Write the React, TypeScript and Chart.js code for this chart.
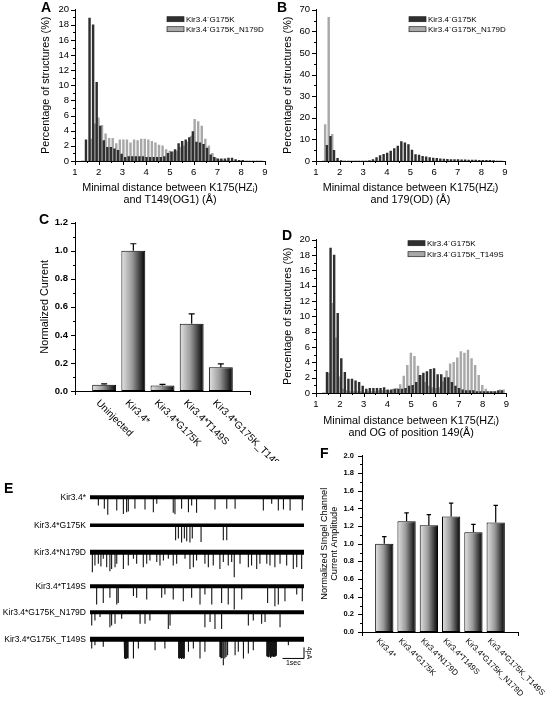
import React, { useEffect, useRef } from 'react';
import { Chart, registerables } from 'chart.js';

Chart.register(...registerables);

const FONT = "'Liberation Sans', Arial, Helvetica, sans-serif";
Chart.defaults.font.family = FONT;
Chart.defaults.color = '#000';

// ---------------- data ----------------
// histogram bin centres (Å)
const BINS = [1.35, 1.5, 1.65, 1.8, 1.95, 2.1, 2.25, 2.4, 2.55, 2.7, 2.85, 3.0, 3.15, 3.3, 3.45, 3.6, 3.75, 3.9, 4.05, 4.2, 4.35, 4.5, 4.65, 4.8, 4.95, 5.1, 5.25, 5.4, 5.55, 5.7, 5.85, 6.0, 6.15, 6.3, 6.45, 6.6, 6.75, 6.9, 7.05, 7.2, 7.35, 7.5, 7.65, 7.8, 7.95, 8.1, 8.25, 8.4, 8.55, 8.7, 8.85];

const A_G175K = [0, 2.8, 18.9, 18.0, 10.4, 4.6, 2.7, 1.8, 1.8, 1.6,
  1.4, 0.9, 0.5, 0.6, 0.6, 0.6, 0.6, 0.6, 0.5, 0.5,
  0.5, 0.5, 0.5, 0.6, 1.0, 1.2, 1.5, 2.3, 2.6, 2.8,
  3.1, 3.9, 2.5, 2.4, 2.2, 1.7, 0.8, 0.5, 0.3, 0.3,
  0.3, 0.4, 0.4, 0.2, 0.1, 0.1, 0, 0, 0, 0,
  0];
const A_G175K_N179D = [0, 0, 2.9, 4.9, 5.7, 4.7, 3.6, 3.0, 3.0, 2.3,
  2.8, 2.8, 2.8, 2.4, 2.8, 2.7, 2.9, 2.9, 2.8, 2.6,
  2.4, 2.1, 2.0, 1.5, 1.3, 1.2, 1.3, 1.8, 2.0, 2.5,
  3.3, 5.5, 5.2, 4.6, 2.9, 2.0, 1.0, 0.4, 0.2, 0.1,
  0.1, 0, 0, 0, 0, 0, 0, 0, 0, 0,
  0];

const B_G175K = [0, 7.2, 11.4, 4.9, 1.2, 0.2, 0, 0, 0, 0,
  0, 0, 0, 0.2, 0.7, 1.6, 2.5, 3.1, 3.7, 4.6,
  5.7, 6.9, 9.0, 8.4, 7.6, 5.1, 3.0, 2.7, 2.2, 1.9,
  1.6, 1.3, 1.2, 1.0, 0.9, 0.8, 0.7, 0.7, 0.6, 0.5,
  0.5, 0.4, 0.4, 0.4, 0.3, 0.3, 0.3, 0.3, 0.2, 0,
  0];
const B_G175K_N179D = [16.9, 66.5, 12.3, 0, 0, 0, 0, 0, 0, 0,
  0, 0, 0, 0, 0, 0, 0, 0, 0, 0,
  0, 0, 0, 0, 0, 0, 0, 0, 0, 0,
  0, 0, 0, 0, 0, 0, 0, 0, 0, 0,
  0, 0, 0, 0, 0, 0, 0, 0, 0, 0,
  0];

const D_G175K = [0, 2.7, 18.9, 18.0, 10.4, 4.5, 2.7, 1.8, 1.8, 1.6,
  1.4, 0.9, 0.5, 0.6, 0.6, 0.6, 0.6, 0.7, 0.4, 0.4,
  0.5, 0.5, 0.5, 0.6, 0.9, 1.0, 1.4, 2.3, 2.6, 2.8,
  3.1, 3.2, 2.4, 2.4, 2.0, 2.0, 1.4, 0.9, 0.6, 0.4,
  0.3, 0.3, 0.3, 0.2, 0.2, 0.2, 0.2, 0.2, 0.2, 0.3,
  0.3];
const D_G175K_T149S = [0, 2.6, 11.7, 7.2, 2.1, 0.5, 0.3, 0.2, 0.2, 0.2,
  0.2, 0.1, 0.2, 0.2, 0.2, 0.3, 0.3, 0.3, 0.3, 0.5,
  0.6, 1.1, 2.2, 3.6, 5.2, 4.8, 3.5, 2.3, 1.4, 0.9,
  0.7, 0.6, 0.7, 1.5, 2.9, 3.8, 4.0, 4.6, 5.4, 5.2,
  5.6, 4.5, 3.6, 2.3, 1.0, 0.5, 0.2, 0.2, 0.2, 0.4,
  0.4];

const C_LABELS = ['Uninjected', 'Kir3.4*', 'Kir3.4*G175K', 'Kir3.4*T149S', 'Kir3.4*G175K_T149S'];
const C_VALUES = [0.045, 1.0, 0.04, 0.48, 0.17];
const C_ERRORS = [0.006, 0.05, 0.007, 0.07, 0.024];

const F_LABELS = ['Kir3.4*', 'Kir3.4*G175K', 'Kir3.4*N179D', 'Kir3.4*T149S', 'Kir3.4*G175K_N179D', 'Kir3.4*G175K_T149S'];
const F_VALUES = [1.0, 1.255, 1.21, 1.31, 1.13, 1.24];
const F_ERRORS = [0.08, 0.095, 0.12, 0.15, 0.09, 0.195];

// single-channel traces: [time (s), downward amplitude (pA)]
const E_LABELS = ['Kir3.4*', 'Kir3.4*G175K', 'Kir3.4*N179D', 'Kir3.4*T149S', 'Kir3.4*G175K_N179D', 'Kir3.4*G175K_T149S'];
const E_KIR34 = [[0.39, 3.0], [0.67, 4.2], [0.83, 6.4], [1.25, 4.8], [1.56, 6.1], [1.71, 5.5], [1.79, 5.2], [2.10, 4.2], [2.57, 4.5], [2.96, 5.5], [3.12, 2.4], [3.89, 5.7], [3.97, 6.2], [4.28, 4.2], [4.60, 5.5], [4.75, 3.0], [4.98, 5.7], [5.84, 4.5], [6.39, 4.2], [6.78, 4.2], [8.10, 4.8], [8.49, 2.4], [8.80, 4.8], [9.04, 4.5], [9.35, 4.8], [9.92, 4.8]];
const E_G175K = [[4.00, 5.5], [4.13, 4.8], [4.28, 6.3], [4.41, 4.8], [4.52, 5.8], [4.67, 6.3], [4.78, 4.8], [5.19, 6.1], [6.23, 5.5], [6.39, 5.5]];
const E_N179D = [[0.11, 7.3], [0.23, 4.8], [0.39, 4.2], [0.51, 5.2], [0.62, 2.4], [0.78, 5.5], [0.93, 6.9], [1.01, 6.1], [1.17, 5.5], [1.25, 4.2], [1.56, 6.1], [1.79, 4.8], [2.03, 2.4], [2.18, 4.2], [2.49, 5.5], [2.65, 4.2], [2.80, 3.0], [3.12, 3.6], [3.27, 4.8], [3.43, 3.0], [3.66, 2.4], [3.89, 4.8], [4.05, 4.2], [4.44, 2.4], [4.67, 6.1], [4.83, 5.5], [4.98, 3.0], [5.37, 4.2], [5.53, 5.5], [5.76, 4.8], [6.07, 6.1], [6.23, 3.6], [6.46, 4.8], [6.62, 3.6], [6.74, 9.1], [7.01, 4.2], [7.40, 5.5], [7.55, 4.8], [7.79, 6.1], [7.94, 4.2], [8.26, 4.2], [8.41, 4.8], [8.64, 5.5], [8.88, 4.2], [9.19, 4.8], [9.50, 6.1], [9.66, 5.5], [9.89, 6.1]];
const E_T149S = [[0.31, 6.7], [0.62, 6.1], [0.93, 4.2], [1.25, 6.7], [1.32, 6.1], [2.03, 3.6], [2.18, 4.2], [2.65, 4.8], [3.35, 4.2], [3.50, 3.0], [3.89, 4.8], [4.36, 5.5], [4.75, 4.2], [5.14, 6.7], [5.37, 3.0], [5.69, 6.7], [6.15, 6.1], [6.46, 6.7], [6.74, 8.5], [7.09, 4.8], [8.30, 6.1], [8.64, 7.3], [8.80, 6.7], [9.11, 5.5], [9.66, 3.0], [9.92, 5.5]];
const E_G175K_N179D = [[0.08, 4.8], [0.23, 3.0], [0.47, 1.8], [0.93, 5.5], [1.01, 4.8], [1.17, 4.2], [1.48, 2.4], [2.34, 4.2], [2.57, 4.2], [2.80, 3.0], [3.66, 6.1], [3.74, 4.8], [5.37, 5.5], [5.61, 3.6], [5.84, 6.1], [6.15, 6.1], [7.40, 4.8], [7.63, 3.0], [8.02, 4.2], [8.18, 3.6], [8.88, 5.5]];
const E_G175K_T149S = [[0.08, 3.4], [0.23, 2.2], [0.62, 2.8],
  [1.60, 6.8], [1.63, 7.0], [1.66, 7.2], [1.69, 6.9], [1.72, 7.1], [1.75, 6.8], [1.78, 7.0],
  [2.03, 7.0], [2.26, 3.4], [3.04, 4.0], [3.50, 3.4],
  [4.14, 6.9], [4.17, 7.1], [4.20, 7.0], [4.23, 6.8], [4.26, 7.2], [4.29, 7.0], [4.32, 6.9], [4.35, 7.1], [4.38, 6.8], [4.41, 7.0],
  [4.60, 4.6], [4.83, 3.4], [5.14, 7.0], [5.37, 4.6],
  [6.07, 6.5], [6.12, 7.0], [6.17, 6.8], [6.23, 9.5], [6.30, 7.0], [6.36, 6.5], [6.43, 5.8],
  [6.78, 5.8], [6.93, 4.6], [7.17, 7.0], [7.40, 5.2], [7.63, 4.0],
  [8.26, 6.2], [8.29, 6.4], [8.32, 6.0], [8.35, 6.6], [8.38, 6.2], [8.41, 6.4], [8.44, 6.8], [8.47, 6.2], [8.50, 6.4], [8.53, 6.3], [8.56, 6.5], [8.59, 6.1], [8.62, 6.4], [8.65, 6.2], [8.68, 6.3], [8.71, 6.0],
  [9.27, 2.2]];
const E_TRACES = [E_KIR34, E_G175K, E_N179D, E_T149S, E_G175K_N179D, E_G175K_T149S];

// ---------------- layout (styling only) ----------------
const TRACE_BASE_Y = [497, 525, 552, 586, 612, 639];
const TRACE_BAND = [4, 3.5, 5, 4, 4, 5];

// ---------------- plugins ----------------
const axisMarks = {
  id: 'axisMarks',
  afterDraw(chart: any, _a: any, opts: any) {
    const ctx = chart.ctx;
    ctx.save();
    ctx.strokeStyle = '#000';
    ctx.lineWidth = 1;
    for (const key of ['x', 'y']) {
      const o = opts[key];
      if (!o) continue;
      const s = chart.scales[key];
      const n = Math.round((s.max - s.min) / o.minor);
      for (let i = 0; i <= n; i++) {
        const v = s.min + i * o.minor;
        const r = (v - s.min) / o.major;
        const major = Math.abs(r - Math.round(r)) < 1e-6;
        const len = major ? 4 : 2;
        ctx.beginPath();
        if (key === 'x') {
          const px = Math.round(s.getPixelForValue(v)) + 0.5;
          ctx.moveTo(px, s.top);
          ctx.lineTo(px, s.top + len);
        } else {
          const py = Math.round(s.getPixelForValue(v)) + 0.5;
          ctx.moveTo(s.right, py);
          ctx.lineTo(s.right - len, py);
        }
        ctx.stroke();
      }
    }
    ctx.restore();
  },
};

const boxLegend = {
  id: 'boxLegend',
  afterDraw(chart: any, _a: any, opts: any) {
    const { ctx, chartArea } = chart;
    ctx.save();
    ctx.font = `${opts.size}px ${FONT}`;
    ctx.textBaseline = 'middle';
    ctx.textAlign = 'left';
    chart.data.datasets.forEach((ds: any, i: number) => {
      const x = chartArea.left + opts.x;
      const y = chartArea.top + opts.y + i * opts.dy;
      ctx.fillStyle = ds.backgroundColor;
      ctx.fillRect(x, y - opts.h / 2, opts.w, opts.h);
      ctx.strokeStyle = '#222';
      ctx.lineWidth = 0.7;
      ctx.strokeRect(x, y - opts.h / 2, opts.w, opts.h);
      ctx.fillStyle = '#000';
      ctx.fillText(ds.label, x + opts.w + 2, y + 0.5);
    });
    ctx.restore();
  },
};

const errBars = {
  id: 'errBars',
  afterDatasetsDraw(chart: any, _a: any, opts: any) {
    const { ctx } = chart;
    const ys = chart.scales.y;
    const meta = chart.getDatasetMeta(0);
    const data = chart.data.datasets[0].data;
    ctx.save();
    ctx.strokeStyle = '#000';
    ctx.lineWidth = 1.2;
    meta.data.forEach((bar: any, i: number) => {
      const top = ys.getPixelForValue(data[i].y + opts.errors[i]);
      ctx.beginPath();
      ctx.moveTo(bar.x, bar.y);
      ctx.lineTo(bar.x, top);
      ctx.moveTo(bar.x - opts.cap, top);
      ctx.lineTo(bar.x + opts.cap, top);
      ctx.stroke();
    });
    ctx.restore();
  },
};

const slantLabels = {
  id: 'slantLabels',
  afterDraw(chart: any, _a: any, opts: any) {
    const { ctx } = chart;
    const xs = chart.scales.x;
    const ys = chart.scales.y;
    ctx.save();
    ctx.font = `${opts.size}px ${FONT}`;
    ctx.fillStyle = '#000';
    ctx.textAlign = 'left';
    ctx.textBaseline = 'top';
    opts.labels.forEach((lab: string, i: number) => {
      const px = xs.getPixelForValue(i + 1);
      ctx.save();
      ctx.translate(px + opts.dx, ys.bottom + opts.dy);
      ctx.rotate(Math.PI / 4);
      ctx.fillText(lab, 0, 0);
      ctx.restore();
    });
    ctx.restore();
  },
};

const scaleBar = {
  id: 'scaleBar',
  afterDraw(chart: any, _a: any, opts: any) {
    const { ctx } = chart;
    const xs = chart.scales.x;
    const ys = chart.scales.y;
    const x0 = xs.getPixelForValue(opts.t1 - opts.sec);
    const x1 = xs.getPixelForValue(opts.t1);
    const yb = ys.getPixelForValue(opts.yBottom);
    const yt = ys.getPixelForValue(opts.yBottom + opts.pA);
    ctx.save();
    ctx.strokeStyle = '#000';
    ctx.lineWidth = 1;
    ctx.beginPath();
    ctx.moveTo(x0, yb);
    ctx.lineTo(x1, yb);
    ctx.lineTo(x1, yt);
    ctx.stroke();
    ctx.fillStyle = '#000';
    ctx.font = `7px ${FONT}`;
    ctx.textAlign = 'center';
    ctx.textBaseline = 'top';
    ctx.fillText(`${opts.sec}sec`, (x0 + x1) / 2, yb + 1.5);
    ctx.translate(x1 + 1.5, (yb + yt) / 2);
    ctx.rotate(Math.PI / 2);
    ctx.textBaseline = 'bottom';
    ctx.fillText(`${opts.pA}pA`, 0, 0);
    ctx.restore();
  },
};

// ---------------- config builders ----------------
type Geo = { l: number; t: number; r: number; b: number; yW: number; xH: number; pt: number; pr: number };
function boxOf(g: Geo) {
  return { left: g.l - g.yW, top: g.t - g.pt, width: g.r + g.pr - (g.l - g.yW), height: g.b + g.xH - (g.t - g.pt) };
}

const DARK = '#2f2f2f';
const LIGHT = '#a8a8a8';
const NO_GRID = { display: false, drawTicks: false, tickLength: 0 };
const AXIS_LINE = { display: true, color: '#000', width: 1 };

function histConfig(g: Geo, dark: number[], light: number[], names: string[], yMax: number, yStep: number, yMinor: number, xTitle: string[], leg: any) {
  return {
    type: 'bar',
    data: {
      datasets: [
        { label: names[0], data: BINS.map((b, i) => ({ x: b, y: dark[i] })), backgroundColor: DARK, borderWidth: 0 },
        { label: names[1], data: BINS.map((b, i) => ({ x: b, y: light[i] })), backgroundColor: LIGHT, borderWidth: 0 },
      ],
    },
    options: {
      responsive: false,
      animation: false,
      devicePixelRatio: 1,
      layout: { padding: { top: g.pt, right: g.pr, left: 0, bottom: 0 } },
      datasets: { bar: { categoryPercentage: 1, barPercentage: 1 } },
      scales: {
        x: {
          type: 'linear', min: 1, max: 9, offset: false,
          grid: NO_GRID,
          border: AXIS_LINE,
          ticks: { stepSize: 1, padding: 6, maxRotation: 0, font: { size: 9.5 } },
          title: { display: true, text: xTitle, padding: 0, font: { size: 10.8, lineHeight: 1.2 } },
          afterFit: (s: any) => { s.height = g.xH; },
        },
        y: {
          type: 'linear', min: 0, max: yMax,
          grid: NO_GRID,
          border: AXIS_LINE,
          ticks: { stepSize: yStep, padding: 6, font: { size: 9.5 } },
          title: { display: true, text: 'Percentage of structures (%)', padding: 0, font: { size: 10.8, lineHeight: 1.2 } },
          afterFit: (s: any) => { s.width = g.yW; },
        },
      },
      plugins: {
        legend: { display: false },
        tooltip: { enabled: false },
        axisMarks: { x: { major: 1, minor: 0.5 }, y: { major: yStep, minor: yMinor } },
        boxLegend: leg,
      },
    },
    plugins: [axisMarks, boxLegend],
  };
}

const BAR_FRAC = 0.82;
function gradientFill(c: any) {
  const chart = c.chart;
  if (!chart.chartArea || c.dataIndex === undefined) return '#888';
  const xs = chart.scales.x;
  const cx = xs.getPixelForValue(c.dataIndex + 1);
  const half = (xs.getPixelForValue(1) - xs.getPixelForValue(0)) * BAR_FRAC / 2;
  const gr = chart.ctx.createLinearGradient(cx - half, 0, cx + half, 0);
  gr.addColorStop(0, '#e4e4e4');
  gr.addColorStop(0.45, '#9a9a9a');
  gr.addColorStop(1, '#000000');
  return gr;
}

function barConfig(g: Geo, labels: string[], values: number[], errors: number[], yMax: number, yTitle: any, tickSize: number, titleSize: number, titleLH: number, labelSize: number, ldx: number, ldy: number, tickPad: number, cap: number) {
  return {
    type: 'bar',
    data: {
      datasets: [{
        label: 'value',
        data: values.map((v, i) => ({ x: i + 1, y: v })),
        backgroundColor: gradientFill,
        borderColor: '#000',
        borderWidth: 1,
        borderSkipped: false,
      }],
    },
    options: {
      responsive: false,
      animation: false,
      devicePixelRatio: 1,
      layout: { padding: { top: g.pt, right: g.pr, left: 0, bottom: 0 } },
      datasets: { bar: { categoryPercentage: 1, barPercentage: BAR_FRAC } },
      scales: {
        x: {
          type: 'linear', min: 0, max: labels.length + 1, offset: false,
          grid: NO_GRID,
          border: AXIS_LINE,
          ticks: { display: false, stepSize: 1 },
          afterFit: (s: any) => { s.height = g.xH; },
        },
        y: {
          type: 'linear', min: 0, max: yMax,
          grid: NO_GRID,
          border: AXIS_LINE,
          ticks: { stepSize: 0.2, padding: tickPad, font: { size: tickSize, weight: 'bold' }, callback: (v: any) => Number(v).toFixed(1) },
          title: { display: true, text: yTitle, padding: 0, font: { size: titleSize, lineHeight: titleLH } },
          afterFit: (s: any) => { s.width = g.yW; },
        },
      },
      plugins: {
        legend: { display: false },
        tooltip: { enabled: false },
        axisMarks: { x: { major: labels.length + 1, minor: labels.length + 1 }, y: { major: 0.2, minor: 0.1 } },
        errBars: { errors, cap },
        slantLabels: { labels, size: labelSize, dx: ldx, dy: ldy },
      },
    },
    plugins: [axisMarks, errBars, slantLabels],
  };
}

function traceConfig(events: number[][], band: number, withBar: boolean) {
  return {
    type: 'line',
    data: {
      datasets: [
        { data: [{ x: 0, y: 0 }, { x: 10, y: 0 }], borderColor: '#000', borderWidth: band, pointRadius: 0, clip: false },
        {
          data: events.flatMap(([t, a]) => [{ x: t, y: 0 }, { x: t, y: -a }, { x: t, y: 0 }]),
          borderColor: '#141414', borderWidth: 1.1, pointRadius: 0, borderJoinStyle: 'bevel', clip: false,
        },
      ],
    },
    options: {
      responsive: false,
      animation: false,
      devicePixelRatio: 1,
      layout: { padding: { left: 0, top: 0, right: withBar ? 16 : 0, bottom: withBar ? 6 : 0 } },
      scales: {
        x: { type: 'linear', min: 0, max: 10, display: false },
        y: { type: 'linear', min: -10.1, max: 1.5, display: false },
      },
      plugins: {
        legend: { display: false },
        tooltip: { enabled: false },
        scaleBar: withBar ? { t1: 10, sec: 1, pA: 4, yBottom: -7 } : false,
      },
    },
    plugins: withBar ? [scaleBar] : [],
  };
}

// ---------------- components ----------------
function ChartCanvas({ box, build }: { box: { left: number; top: number; width: number; height: number }; build: () => any }) {
  const ref = useRef<HTMLCanvasElement | null>(null);
  useEffect(() => {
    if (!ref.current) return;
    const chart = new Chart(ref.current, build());
    return () => chart.destroy();
  }, []);
  return (
    <canvas
      ref={ref}
      width={box.width}
      height={box.height}
      style={{ position: 'absolute', left: box.left, top: box.top, width: box.width, height: box.height }}
    />
  );
}

function Letter({ x, y, c }: { x: number; y: number; c: string }) {
  return (
    <div style={{ position: 'absolute', left: x, top: y, fontSize: 14, lineHeight: '14px', fontWeight: 'bold' }}>{c}</div>
  );
}

const GEO_A: Geo = { l: 75, t: 5, r: 265, b: 161, yW: 35, xH: 46, pt: 7, pr: 10 };
const GEO_B: Geo = { l: 316, t: 5, r: 505, b: 161, yW: 34, xH: 46, pt: 7, pr: 10 };
const GEO_C: Geo = { l: 75, t: 217, r: 250, b: 391, yW: 36, xH: 70, pt: 7, pr: 32 };
const GEO_D: Geo = { l: 316, t: 235, r: 507, b: 393, yW: 34, xH: 47, pt: 7, pr: 8 };
const GEO_F: Geo = { l: 362, t: 450, r: 518, b: 632, yW: 43, xH: 74, pt: 7, pr: 32 };

const XT = 'Minimal distance between K175(HZᵢ)';

export default function App() {
  return (
    <div style={{ position: 'absolute', left: 0, top: 0, width: 550, height: 706, background: '#fff', overflow: 'hidden', fontFamily: FONT, color: '#000' }}>
      <ChartCanvas box={boxOf(GEO_A)} build={() => histConfig(GEO_A, A_G175K, A_G175K_N179D, ['Kir3.4´G175K', 'Kir3.4´G175K_N179D'], 20, 2, 1, [XT, 'and T149(OG1) (Å)'], { x: 92, y: 9.5, dy: 10, w: 17, h: 5, size: 8 })} />
      <ChartCanvas box={boxOf(GEO_B)} build={() => histConfig(GEO_B, B_G175K, B_G175K_N179D, ['Kir3.4´G175K', 'Kir3.4´G175K_N179D'], 70, 10, 5, [XT, 'and 179(OD) (Å)'], { x: 93, y: 9.5, dy: 10, w: 17, h: 5, size: 8 })} />
      <ChartCanvas box={boxOf(GEO_C)} build={() => barConfig(GEO_C, C_LABELS, C_VALUES, C_ERRORS, 1.2, 'Normalized Current', 9.5, 10.8, 1.2, 10, -3, 7, 7, 3)} />
      <ChartCanvas box={boxOf(GEO_D)} build={() => histConfig(GEO_D, D_G175K, D_G175K_T149S, ['Kir3.4´G175K', 'Kir3.4´G175K_T149S'], 20, 2, 1, [XT, 'and OG of position 149(Å)'], { x: 92, y: 3.5, dy: 11, w: 17, h: 5, size: 8 })} />
      <ChartCanvas box={boxOf(GEO_F)} build={() => barConfig(GEO_F, F_LABELS, F_VALUES, F_ERRORS, 2.0, ['Normalized SIngel Channel', 'Current Amplitude'], 7.5, 9.2, 1.1, 8, -4, 5, 8, 2.2)} />
      {E_TRACES.map((ev, i) => {
        const last = i === E_TRACES.length - 1;
        return (
          <ChartCanvas
            key={i}
            box={{ left: 90, top: TRACE_BASE_Y[i] - 4, width: last ? 230 : 214, height: last ? 38 : 32 }}
            build={() => traceConfig(ev, TRACE_BAND[i], last)}
          />
        );
      })}
      {E_LABELS.map((lab, i) => (
        <div key={lab} style={{ position: 'absolute', right: 550 - 86, top: TRACE_BASE_Y[i] - 5, fontSize: 8.5, lineHeight: '10px', whiteSpace: 'nowrap' }}>{lab}</div>
      ))}
      <Letter x={41} y={0} c="A" />
      <Letter x={277} y={0} c="B" />
      <Letter x={39} y={212} c="C" />
      <Letter x={282} y={228} c="D" />
      <Letter x={4} y={481} c="E" />
      <Letter x={320} y={446} c="F" />
    </div>
  );
}
